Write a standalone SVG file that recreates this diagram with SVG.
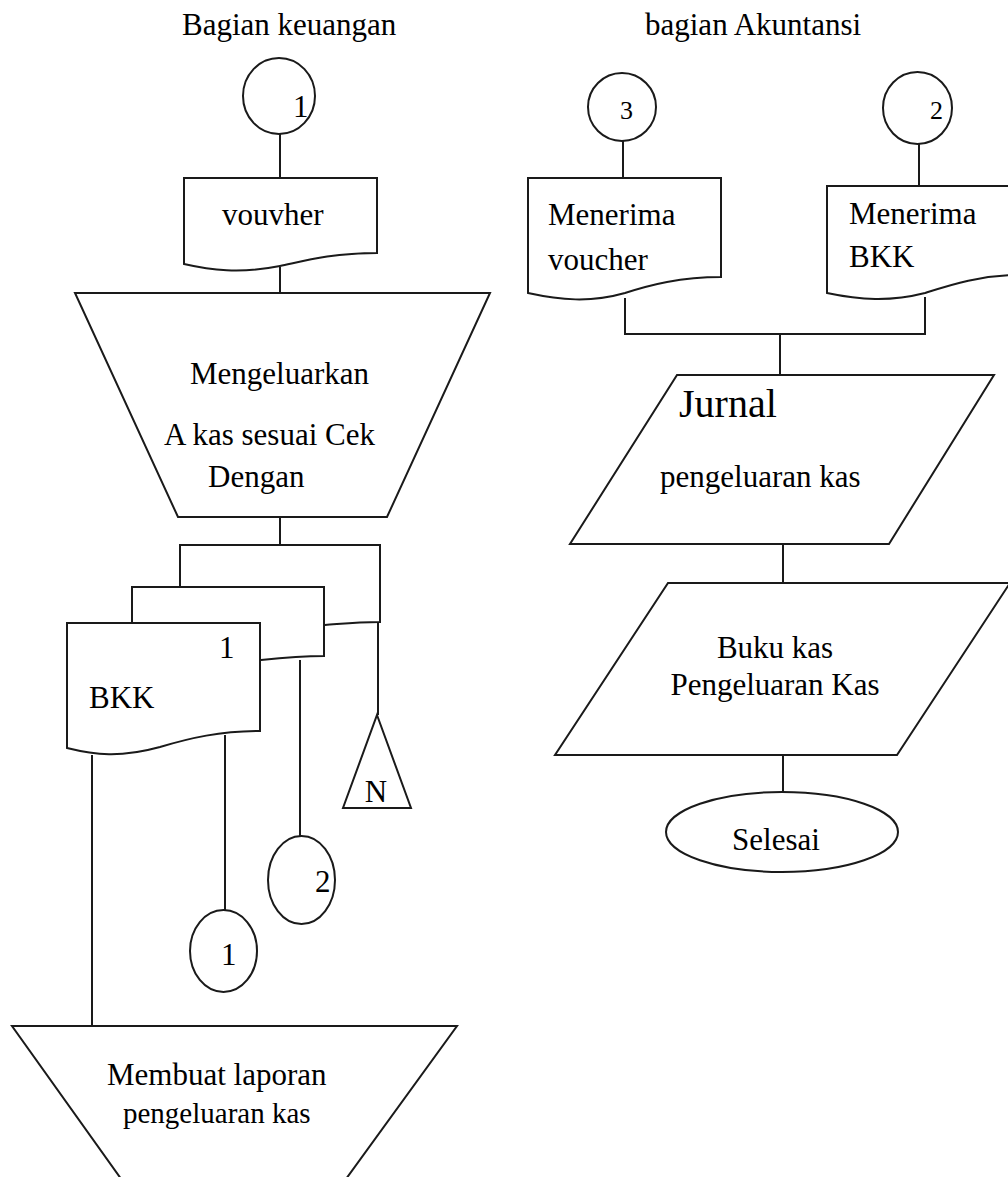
<svg xmlns="http://www.w3.org/2000/svg" width="1008" height="1177" viewBox="0 0 1008 1177">
<style>
.s{fill:#fff;stroke:#1a1a1a;stroke-width:2}
.c{fill:none;stroke:#1a1a1a;stroke-width:2}
text{font-family:'Liberation Serif','DejaVu Serif',serif;font-size:31px;fill:#000}
.m{text-anchor:middle}
</style>
<rect width="1008" height="1177" fill="#fff"/>
<g id="titles" font-family="Liberation Serif, serif">
<text x="182" y="35">Bagian keuangan</text>
<text x="645" y="35">bagian Akuntansi</text>
</g>
<g id="connectors">
<path class="c" d="M280,134V178 M280,267V293 M280,517V545"/>
<path class="c" d="M378,622V715 M300,660V836 M225,735V910 M92,755V1026"/>
<path class="c" d="M623,141V178 M919,144V186 M625,298V334H925V297 M780,334V375 M783,544V583 M783,755V792"/>
</g>
<g id="conn1-top"><ellipse class="s" cx="279" cy="96" rx="36" ry="38"/><text x="293" y="117">1</text></g>
<g id="doc-vouvher"><path class="s" d="M184,264V178H377V253C330,253 300,262 280,266C240,274 210,270 184,264Z"/><text x="222" y="225">vouvher</text></g>
<g id="manual-mengeluarkan"><polygon class="s" points="75,293 490,293 387,517 178,517"/>
<text x="190" y="384">Mengeluarkan</text><text x="164" y="445">A kas sesuai Cek</text><text x="208" y="487">Dengan</text></g>
<g id="doc-back"><path class="s" d="M180,632V545H380V622C355,622 340,624 325,625C270,630 220,638 180,632Z"/></g>
<g id="doc-middle"><path class="s" d="M132,668V587H324V656C300,656 280,658 261,660C210,668 170,676 132,668Z"/></g>
<g id="doc-bkk"><path class="s" d="M67,748V623H260V731C220,731 190,738 160,747C120,758 95,755 67,748Z"/>
<text x="219" y="658">1</text><text x="89" y="708">BKK</text></g>
<g id="offpage-N"><polygon class="s" points="377,715 411,808 343,808"/><text class="m" x="376" y="802">N</text></g>
<g id="conn2-left"><ellipse class="s" cx="301.5" cy="880" rx="33.5" ry="44"/><text x="315" y="892">2</text></g>
<g id="conn1-bottom"><ellipse class="s" cx="223.5" cy="951" rx="33.5" ry="41"/><text x="221" y="965">1</text></g>
<g id="manual-laporan"><polygon class="s" points="12,1026 457,1026 338,1190 129,1190"/>
<text x="107" y="1085">Membuat laporan</text><text x="123" y="1123" style="font-size:29px">pengeluaran kas</text></g>
<g id="conn3"><ellipse class="s" cx="622" cy="107" rx="34" ry="34"/><text x="620" y="119" style="font-size:26px">3</text></g>
<g id="conn2-right"><ellipse class="s" cx="917.5" cy="108" rx="34.5" ry="36"/><text x="930" y="119" style="font-size:26px">2</text></g>
<g id="doc-terima-voucher"><path class="s" d="M528,293V178H721V277C680,277 650,285 625,293C590,303 560,300 528,293Z"/>
<text x="548" y="225">Menerima</text><text x="548" y="270">voucher</text></g>
<g id="doc-terima-bkk"><path class="s" d="M827,293V186H1020V275C980,275 950,285 925,293C890,302 860,300 827,293Z"/>
<text x="849" y="224">Menerima</text><text x="849" y="267">BKK</text></g>
<g id="io-jurnal"><polygon class="s" points="677,375 994,375 889,544 570,544"/>
<text x="679" y="417" style="font-size:40px">Jurnal</text><text x="660" y="487">pengeluaran kas</text></g>
<g id="io-buku-kas"><polygon class="s" points="668,583 1010,583 897,755 555,755"/>
<text class="m" x="775" y="658">Buku kas</text><text class="m" x="775" y="695">Pengeluaran Kas</text></g>
<g id="terminal-selesai"><ellipse class="s" cx="782" cy="832" rx="116" ry="40"/><text class="m" x="776" y="850">Selesai</text></g>
</svg>
